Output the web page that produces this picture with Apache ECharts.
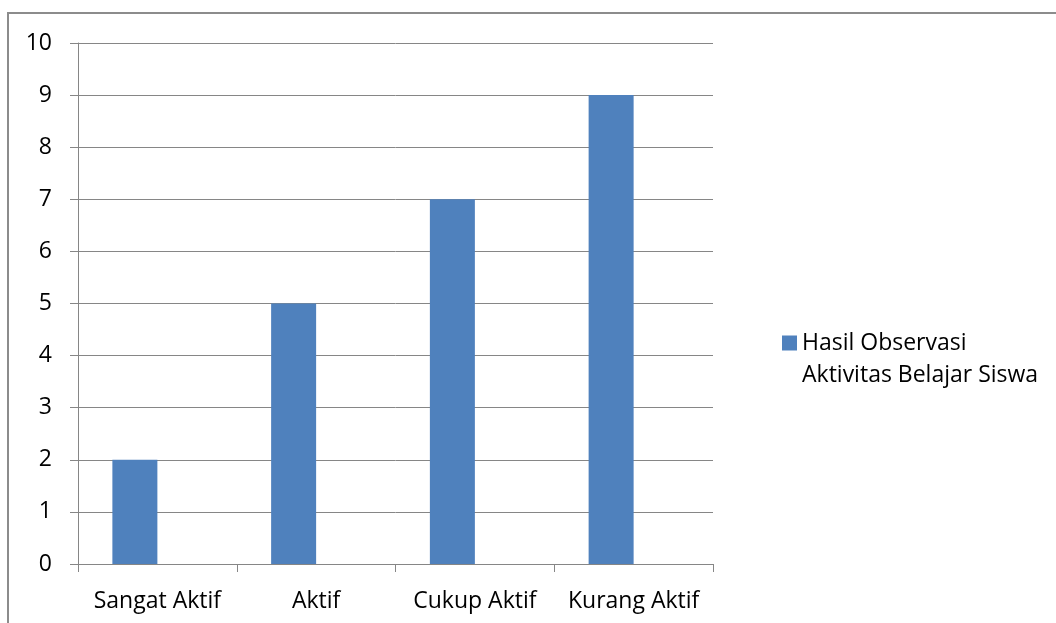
<!DOCTYPE html>
<html>
<head>
<meta charset="utf-8">
<script src="https://cdn.jsdelivr.net/npm/echarts@6/dist/echarts.min.js"></script>
<style>
  html, body { margin: 0; padding: 0; background: #fff; }
  #chart { width: 1056px; height: 623px; }
</style>
</head>
<body>
<div id="chart"></div>
<script>
const categories = ['Sangat Aktif', 'Aktif', 'Cukup Aktif', 'Kurang Aktif'];
const values = [2, 5, 7, 9];
const emptyValues = [null, null, null, null];
const seriesName = 'Hasil Observasi Aktivitas Belajar Siswa';
const yTicks = [0, 10, 1];

const gray = '#868686';
const font = 'Open Sans';
const fs = 23;

const chart = echarts.init(document.getElementById('chart'));

chart.setOption({
  animation: false,
  backgroundColor: '#fff',
  textStyle: { fontFamily: font },
  graphic: [{
    type: 'rect',
    shape: { x: 8, y: 13, width: 1100, height: 700 },
    style: { fill: 'none', stroke: '#8c8c8c', lineWidth: 2 },
    silent: true
  }],
  grid: { left: 78, right: 343, top: 43, bottom: 59 },
  legend: {
    data: [seriesName],
    left: 782,
    top: 295,
    padding: 0,
    icon: 'rect',
    itemWidth: 15,
    itemHeight: 15,
    // leading blank line keeps the icon level with the first text line
    formatter: () => '\nHasil Observasi\nAktivitas Belajar Siswa',
    textStyle: { fontFamily: font, fontSize: fs, color: '#000', lineHeight: 32 }
  },
  xAxis: {
    type: 'category',
    data: categories,
    axisLine: { lineStyle: { color: gray, width: 1 } },
    axisTick: { show: true, length: 8, alignWithLabel: false, lineStyle: { color: gray } },
    axisLabel: { color: '#000', fontSize: fs, fontFamily: font, margin: 26, interval: 0 }
  },
  yAxis: {
    type: 'value',
    min: yTicks[0],
    max: yTicks[1],
    interval: yTicks[2],
    axisLine: { show: true, lineStyle: { color: gray, width: 1 } },
    axisTick: { show: true, length: 8, lineStyle: { color: gray } },
    axisLabel: { color: '#000', fontSize: fs, fontFamily: font, margin: 26 },
    splitLine: { show: true, lineStyle: { color: gray, width: 1 } }
  },
  series: [
    {
      name: seriesName,
      type: 'bar',
      data: values,
      barWidth: 45,
      barGap: '0%',
      itemStyle: { color: '#4F81BD' }
    },
    {
      name: 'empty',
      type: 'bar',
      data: emptyValues,
      barWidth: 45,
      itemStyle: { color: '#C0504D' }
    }
  ]
});
</script>
</body>
</html>
